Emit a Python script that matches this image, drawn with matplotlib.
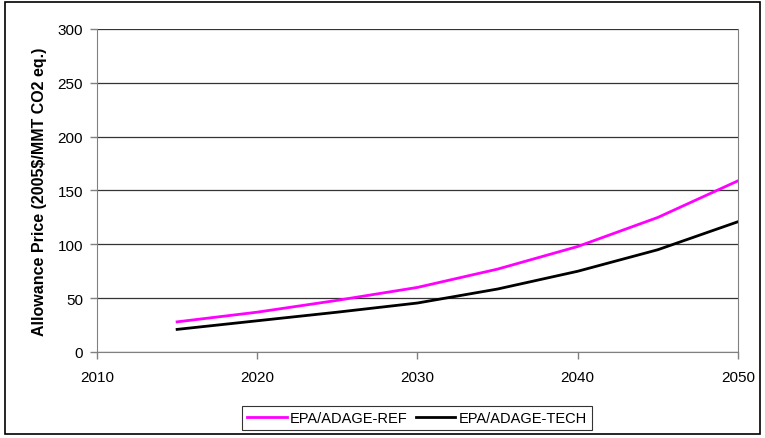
import matplotlib
matplotlib.use("Agg")
import matplotlib.pyplot as plt
from matplotlib.patches import Rectangle

plt.rcParams['font.family'] = ['Liberation Sans', 'DejaVu Sans']

years = [2015, 2020, 2025, 2030, 2035, 2040, 2045, 2050]
ref = [28, 37, 48, 60, 77, 98, 125, 159]
tech = [21, 29, 37, 45.5, 58.5, 75, 95, 121]

fig = plt.figure(figsize=(7.65, 4.39), dpi=100)
ax = fig.add_axes([0.1268, 0.1959, 0.8379, 0.7358])

ax.plot(years, ref, color='#FF00FF', lw=2, label='EPA/ADAGE-REF')
ax.plot(years, tech, color='black', lw=2, label='EPA/ADAGE-TECH')

ax.set_xlim(2010, 2050)
ax.set_ylim(0, 300)
ax.set_xticks([2010, 2020, 2030, 2040, 2050])
ax.set_yticks(range(0, 301, 50))
ax.yaxis.grid(True, color='#333333', lw=0.9)
ax.set_axisbelow(True)
for s in ['left', 'bottom', 'right']:
    ax.spines[s].set_color('#808080')
ax.spines['top'].set_visible(False)
ax.tick_params(labelsize=11, color='#808080', length=5, width=1)
ax.tick_params(axis='x', pad=8)
ax.tick_params(axis='y', pad=5)
ax.set_ylabel('Allowance Price (2005$/MMT CO2 eq.)', fontsize=11.5, fontweight='bold', labelpad=8)

leg = fig.legend(loc='center', bbox_to_anchor=(0.545, 0.046), ncol=2, fontsize=10.5,
                 frameon=True, fancybox=False, edgecolor='black', handlelength=2.7,
                 handletextpad=0.2, columnspacing=0.6, borderpad=0.35)
leg.get_frame().set_linewidth(0.8)

fig.patches.append(Rectangle((0.006, 0.01), 0.988, 0.983, transform=fig.transFigure,
                             fill=False, edgecolor='black', lw=1.2))

fig.savefig('out.png', dpi=100)
